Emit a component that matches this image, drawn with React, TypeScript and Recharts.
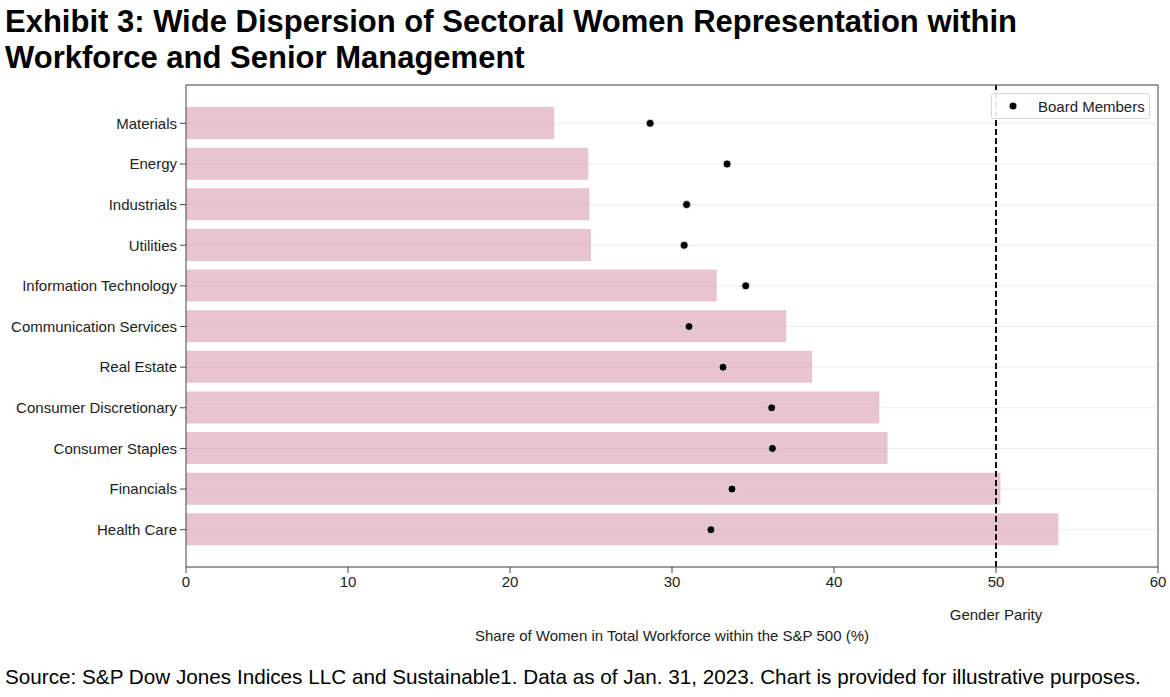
import React from "react";
import {
  ComposedChart,
  Bar,
  Scatter,
  XAxis,
  YAxis,
  CartesianGrid,
  ReferenceLine,
} from "recharts";

const sectors = [
  "Materials",
  "Energy",
  "Industrials",
  "Utilities",
  "Information Technology",
  "Communication Services",
  "Real Estate",
  "Consumer Discretionary",
  "Consumer Staples",
  "Financials",
  "Health Care",
];
const workforceShare = [22.73, 24.83, 24.9, 25.0, 32.76, 37.05, 38.65, 42.8, 43.3, 50.27, 53.85];
const boardShare = [28.65, 33.4, 30.9, 30.75, 34.55, 31.05, 33.15, 36.15, 36.2, 33.7, 32.4];
const xTicks = [0, 10, 20, 30, 40, 50, 60];
const parity = 50;

const data = sectors.map((s, i) => ({
  sector: s,
  workforce: workforceShare[i],
  board: boardShare[i],
}));

const FONT = "'Liberation Sans', Arial, Helvetica, sans-serif";

const LegendBox = () => (
  <div
    style={{
      position: "absolute",
      left: 991,
      top: 93,
      border: "1px solid #d6d6d6",
      borderRadius: 3,
      background: "rgba(255,255,255,0.9)",
      width: 159,
      height: 26,
      boxSizing: "border-box",
      display: "flex",
      alignItems: "center",
      fontFamily: FONT,
      fontSize: 15,
      color: "#222",
    }}
  >
    <svg width={40} height={20}>
      <circle cx={21} cy={10} r={3.5} fill="#000" />
    </svg>
    <span style={{ marginLeft: 6 }}>Board Members</span>
  </div>
);

export default function App() {
  return (
    <div
      style={{
        position: "absolute",
        left: 0,
        top: 0,
        width: 1170,
        height: 697,
        background: "#fff",
        fontFamily: FONT,
      }}
    >
      <div
        style={{
          position: "absolute",
          left: 5,
          top: 4,
          fontSize: 31,
          fontWeight: 700,
          lineHeight: "36px",
          color: "#000",
          whiteSpace: "nowrap",
        }}
      >
        Exhibit 3: Wide Dispersion of Sectoral Women Representation within
        <br />
        Workforce and Senior Management
      </div>
      <div style={{ position: "absolute", left: 0, top: 0 }}>
        <ComposedChart
          width={1170}
          height={697}
          data={data}
          layout="vertical"
          margin={{ top: 84, right: 11, bottom: 55, left: 0 }}
        >
          <CartesianGrid horizontal={true} vertical={false} stroke="#ececec" />
          <XAxis
            type="number"
            domain={[0, 60]}
            ticks={xTicks}
            tick={{ fill: "#222", fontSize: 15, fontFamily: FONT }}
            tickSize={6}
            tickMargin={3}
            axisLine={{ stroke: "#444" }}
            tickLine={{ stroke: "#444" }}
            height={75}
            label={{
              value: "Share of Women in Total Workforce within the S&P 500 (%)",
              position: "insideBottom",
              offset: 1,
              fill: "#222",
              fontSize: 15,
              fontFamily: FONT,
            }}
          />
          <XAxis
            xAxisId="top"
            orientation="top"
            type="number"
            domain={[0, 60]}
            ticks={xTicks}
            height={1}
            tick={false}
            tickLine={false}
            axisLine={{ stroke: "#444" }}
          />
          <YAxis
            type="category"
            dataKey="sector"
            width={186}
            padding={{ top: 18, bottom: 17 }}
            tick={{ fill: "#222", fontSize: 15, fontFamily: FONT }}
            tickSize={6}
            tickMargin={3}
            axisLine={{ stroke: "#444" }}
            tickLine={{ stroke: "#444" }}
          />
          <YAxis
            yAxisId="right"
            orientation="right"
            type="category"
            dataKey="sector"
            width={1}
            padding={{ top: 18, bottom: 17 }}
            tick={false}
            tickLine={false}
            axisLine={{ stroke: "#444" }}
          />
          <Bar
            dataKey="workforce"
            name="Workforce"
            fill="#d08a9e"
            fillOpacity={0.5}
            barSize={32}
            legendType="none"
            isAnimationActive={false}
          />
          <ReferenceLine
            x={parity}
            stroke="#111"
            strokeWidth={2}
            strokeDasharray="6 3"
            label={{
              value: "Gender Parity",
              position: "bottom",
              offset: 42,
              fill: "#222",
              fontSize: 15,
              fontFamily: FONT,
            }}
          />
          <Scatter
            dataKey="board"
            name="Board Members"
            fill="#000"
            shape={(p: any) => (
              <circle cx={p.cx} cy={p.cy} r={4} fill="#000" stroke="#fff" strokeWidth={0.8} />
            )}
            isAnimationActive={false}
          />
          <Scatter
            xAxisId="top"
            yAxisId="right"
            dataKey="board"
            name="frame"
            legendType="none"
            shape={() => <g />}
            isAnimationActive={false}
          />
        </ComposedChart>
      </div>
      <LegendBox />
      <div
        style={{
          position: "absolute",
          left: 5,
          top: 665,
          fontSize: 20.7,
          color: "#000",
          whiteSpace: "nowrap",
        }}
      >
        Source: S&amp;P Dow Jones Indices LLC and Sustainable1. Data as of Jan. 31, 2023. Chart is provided for
        illustrative purposes.
      </div>
    </div>
  );
}
